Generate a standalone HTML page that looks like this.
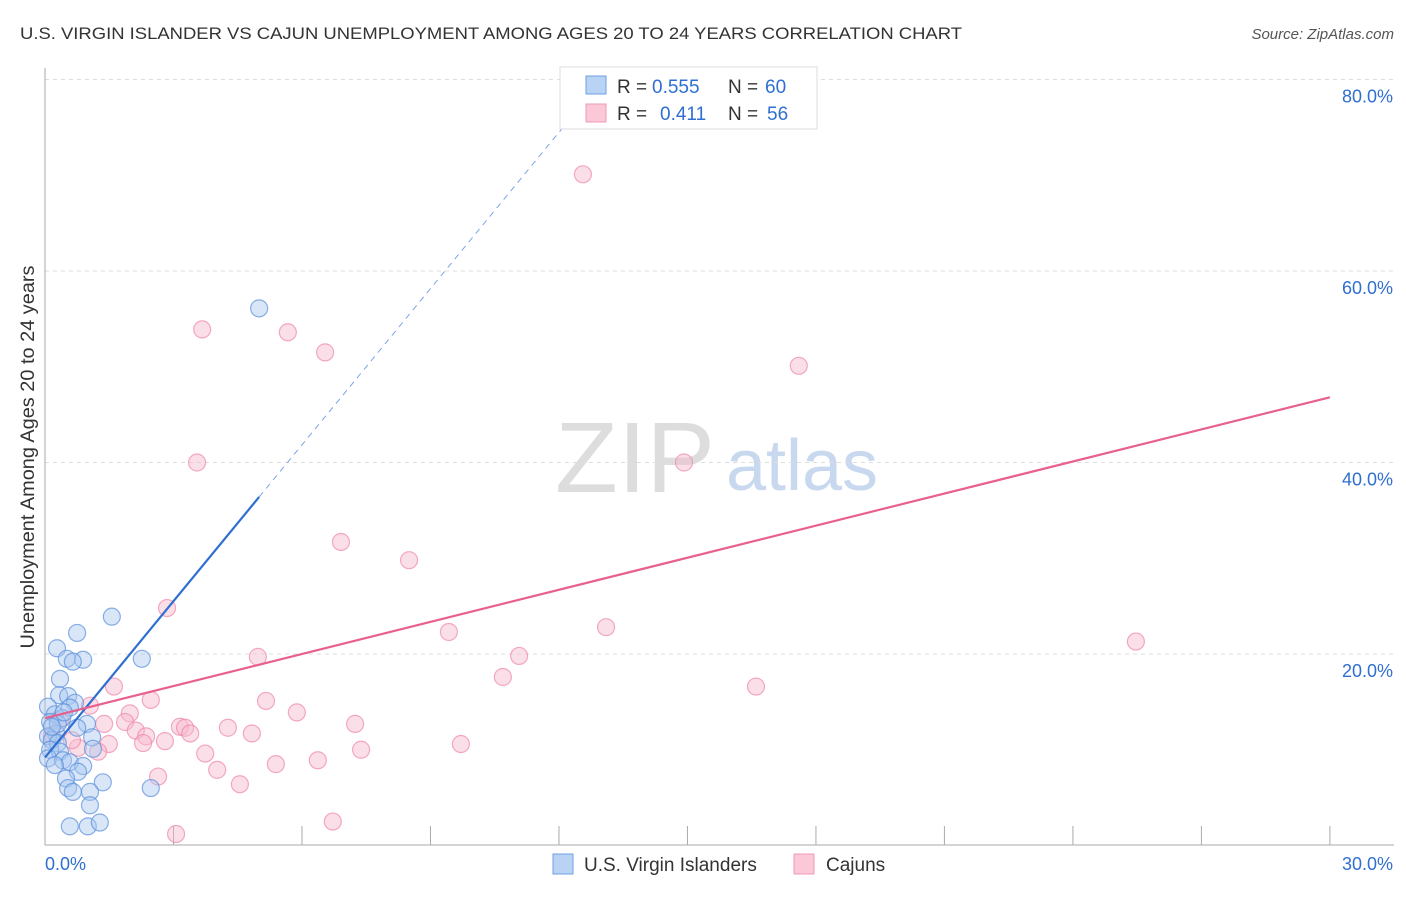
<!DOCTYPE html>
<html><head><meta charset="utf-8"><style>
body{margin:0;background:#fff;font-family:"Liberation Sans",sans-serif}
svg text{font-family:"Liberation Sans",sans-serif}
</style></head><body>
<svg id="c" width="1406" height="892" xmlns="http://www.w3.org/2000/svg">
<text x="20" y="39" font-size="17" fill="#333" textLength="942" lengthAdjust="spacingAndGlyphs">U.S. VIRGIN ISLANDER VS CAJUN UNEMPLOYMENT AMONG AGES 20 TO 24 YEARS CORRELATION CHART</text>
<text x="1394" y="39" font-size="15" fill="#555" font-style="italic" text-anchor="end">Source: ZipAtlas.com</text>
<text x="34" y="457" font-size="19" fill="#333" text-anchor="middle" textLength="383" lengthAdjust="spacingAndGlyphs" transform="rotate(-90 34 457)">Unemployment Among Ages 20 to 24 years</text>
<g><text x="635" y="492" font-size="100" fill="#ddd" font-family="Liberation Serif" text-anchor="middle" textLength="160" lengthAdjust="spacingAndGlyphs">ZIP</text><text x="802" y="490" font-size="72" fill="#c8d8ee" text-anchor="middle">atlas</text></g>
<g id="grid"></g><g id="axes"></g><g id="marks"></g>
<g>
<rect x="560" y="67" width="257" height="62" fill="#fff" stroke="#ddd"/>
<rect x="586" y="76" width="20" height="18" fill="#b9d3f5" stroke="#6f9fe0"/>
<rect x="586" y="104" width="20" height="18" fill="#fac8d6" stroke="#f09ab4"/>
<text y="93" font-size="19" fill="#333"><tspan x="617">R =</tspan><tspan x="652" fill="#2f6fd0">0.555</tspan><tspan x="728">N =</tspan><tspan x="765" fill="#2f6fd0">60</tspan></text>
<text y="120" font-size="19" fill="#333"><tspan x="617">R =</tspan><tspan x="660" fill="#2f6fd0">0.411</tspan><tspan x="728">N =</tspan><tspan x="767" fill="#2f6fd0">56</tspan></text>
</g>
<g>
<rect x="553" y="854" width="20" height="20" fill="#b9d3f5" stroke="#6f9fe0"/>
<text x="584" y="871" font-size="19" fill="#333">U.S. Virgin Islanders</text>
<rect x="794" y="854" width="20" height="20" fill="#fac8d6" stroke="#f09ab4"/>
<text x="826" y="871" font-size="19" fill="#333">Cajuns</text>
</g>
</svg>
<script>
const blueX=[5.0,1.56,0.75,0.28,0.51,0.89,0.65,2.26,0.35,0.33,0.54,0.70,0.07,0.58,0.23,0.40,0.12,0.98,0.75,0.26,0.07,0.16,0.30,1.10,1.12,0.12,0.35,0.07,0.42,0.58,0.89,0.23,0.77,0.49,1.35,0.54,0.65,1.05,1.05,2.47,0.58,1.00,1.28,0.30,0.44,0.16];
const blueY=[56.1,23.9,22.2,20.6,19.5,19.4,19.2,19.5,17.4,15.7,15.6,14.9,14.5,14.4,13.7,13.3,12.9,12.7,12.3,11.7,11.4,11.0,10.7,11.3,10.1,10.0,9.8,9.1,8.9,8.7,8.3,8.4,7.7,7.0,6.6,6.0,5.6,5.6,4.2,6.0,2.0,2.0,2.4,12.7,13.9,12.4];
const pinkX=[12.56,3.67,5.67,6.54,17.6,3.55,14.92,6.91,8.50,2.85,9.43,13.10,25.47,4.97,11.07,10.69,16.60,1.61,2.47,5.16,1.05,5.88,1.98,1.87,1.38,7.24,3.15,3.27,3.39,4.27,2.12,2.36,4.83,2.29,2.80,1.49,0.77,1.24,9.71,7.38,3.74,6.37,5.39,4.02,2.64,4.55,6.72,3.06,0.35,0.16,0.63];
const pinkY=[70.1,53.9,53.6,51.5,50.1,40.0,40.0,31.7,29.8,24.8,22.3,22.8,21.3,19.7,19.8,17.6,16.6,16.6,15.2,15.1,14.6,13.9,13.8,12.9,12.7,12.7,12.4,12.3,11.7,12.3,12.0,11.4,11.7,10.7,10.9,10.6,10.2,9.8,10.6,10.0,9.6,8.9,8.5,7.9,7.2,6.4,2.5,1.2,13.1,11.5,11.0];
const blueTrend=[9.2,5.44]; const pinkTrend=[13.3,1.117];
const yTicks=[20,40,60,80]; const yLabels=["20.0%","40.0%","60.0%","80.0%"];
const xTicks=[0,3,6,9,12,15,18,21,24,27,30];
const NS="http://www.w3.org/2000/svg";
const sx=v=>45+v*42.83, sy=v=>845.5-v*9.575;
function mk(p,t,a){const e=document.createElementNS(NS,t);for(const k in a)e.setAttribute(k,a[k]);document.getElementById(p).appendChild(e);return e;}
yTicks.forEach((t,i)=>{let l=mk('grid','line',{x1:45,x2:1394,y1:sy(t),y2:sy(t),stroke:'#ddd','stroke-dasharray':'4 4'});


let tx=mk('axes','text',{x:1393,y:sy(t)+23,'font-size':18,fill:'#2f6fd0','text-anchor':'end'});tx.textContent=yLabels[i];

});
let ax=mk('axes','line',{x1:45,x2:45,y1:68,y2:845,stroke:'#aaa'});


let bx=mk('axes','line',{x1:45,x2:1394,y1:845,y2:845,stroke:'#aaa'});


xTicks.forEach(t=>{let l=mk('axes','line',{x1:sx(t),x2:sx(t),y1:826,y2:845,stroke:'#aaa'});

});
[[0,'0.0%',45,'start'],[30,'30.0%',1393,'end']].forEach(a=>{let t=mk('axes','text',{x:a[2],y:870,'font-size':18,fill:'#2f6fd0','text-anchor':a[3]});t.textContent=a[1];

});
function pts(X,Y,f,s,n){X.forEach((x,i)=>{let c=mk('marks','circle',{cx:sx(x),cy:sy(Y[i]),r:8.5,fill:f,'fill-opacity':0.45,stroke:s,'stroke-opacity':0.7,'stroke-width':1.2});

});}
pts(pinkX,pinkY,'#f7b8cb','#ee88a8','cajun-point');
pts(blueX,blueY,'#a9c8f0','#5a8fdc','virgin-islander-point');
let b1=mk('marks','line',{x1:sx(0),y1:sy(blueTrend[0]),x2:sx(5),y2:sy(blueTrend[0]+5*blueTrend[1]),stroke:'#2f6fd0','stroke-width':2.2});


let b2=mk('marks','line',{x1:sx(5),y1:sy(blueTrend[0]+5*blueTrend[1]),x2:sx(12.6),y2:sy(blueTrend[0]+12.6*blueTrend[1]),stroke:'#7aa5e6','stroke-width':1,'stroke-dasharray':'6 5'});


let p1=mk('marks','line',{x1:sx(0),y1:sy(pinkTrend[0]),x2:sx(30),y2:sy(pinkTrend[0]+30*pinkTrend[1]),stroke:'#e8608e','stroke-width':2.2});


</script>
</body></html>
